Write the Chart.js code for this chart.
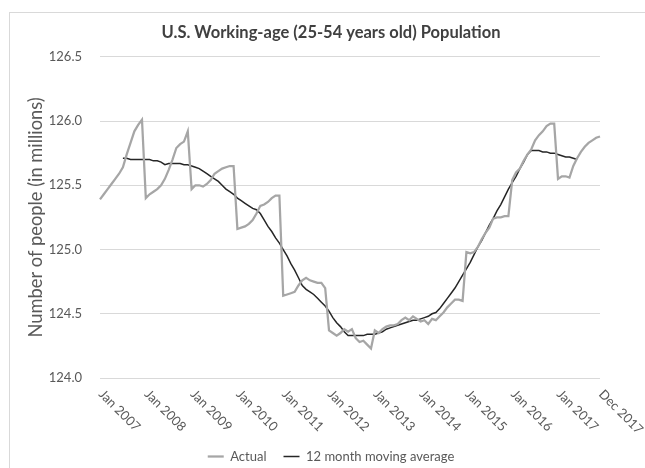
<!DOCTYPE html>
<html>
<head>
<meta charset="utf-8">
<script src="https://cdn.jsdelivr.net/npm/chart.js@4.4.1/dist/chart.umd.min.js"></script>
<style>
  html, body { margin: 0; padding: 0; background: #fff; }
  #wrap { width: 645px; height: 468px; position: relative; }
</style>
</head>
<body>
<div id="wrap"><canvas id="population-chart" width="645" height="468"></canvas></div>
<script>
// Monthly categories, Jan 2007 .. Dec 2017
const monthNames = ['Jan', 'Feb', 'Mar', 'Apr', 'May', 'Jun', 'Jul', 'Aug', 'Sep', 'Oct', 'Nov', 'Dec'];
const years = [2007, 2008, 2009, 2010, 2011, 2012, 2013, 2014, 2015, 2016, 2017];
const months = [];
years.forEach(y => monthNames.forEach(m => months.push(m + ' ' + y)));

// Labels shown under the x axis
const tickLabels = ['Jan 2007', 'Jan 2008', 'Jan 2009', 'Jan 2010', 'Jan 2011', 'Jan 2012',
    'Jan 2013', 'Jan 2014', 'Jan 2015', 'Jan 2016', 'Jan 2017', 'Dec 2017'];

// Population aged 25-54, millions (one row per year)
const actual = [
    125.39, 125.43, 125.47, 125.51, 125.55, 125.59, 125.64, 125.74, 125.83, 125.92, 125.97, 126.01,
    125.40, 125.43, 125.45, 125.47, 125.50, 125.55, 125.62, 125.70, 125.79, 125.82, 125.84, 125.92,
    125.47, 125.50, 125.50, 125.49, 125.51, 125.54, 125.59, 125.61, 125.63, 125.64, 125.65, 125.65,
    125.16, 125.17, 125.18, 125.20, 125.23, 125.28, 125.34, 125.35, 125.37, 125.40, 125.42, 125.42,
    124.64, 124.65, 124.66, 124.67, 124.72, 124.76, 124.78, 124.76, 124.75, 124.74, 124.74, 124.70,
    124.37, 124.35, 124.33, 124.35, 124.38, 124.36, 124.38, 124.31, 124.28, 124.29, 124.26, 124.23,
    124.37, 124.35, 124.38, 124.40, 124.41, 124.41, 124.42, 124.45, 124.47, 124.45, 124.48, 124.46,
    124.44, 124.45, 124.42, 124.46, 124.45, 124.48, 124.51, 124.55, 124.58, 124.61, 124.61, 124.60,
    124.98, 124.97, 124.98, 125.02, 125.08, 125.13, 125.17, 125.24, 125.25, 125.25, 125.26, 125.26,
    125.54, 125.60, 125.63, 125.69, 125.74, 125.78, 125.85, 125.89, 125.92, 125.96, 125.98, 125.98,
    125.55, 125.57, 125.57, 125.56, 125.65, 125.71, 125.76, 125.80, 125.83, 125.85, 125.87, 125.88
];

// Centered 12 month moving average (no value for the first and last six months)
const movingAvg = [
    null, null, null, null, null, null, 125.71, 125.71, 125.70, 125.70, 125.70, 125.70,
    125.70, 125.70, 125.69, 125.69, 125.68, 125.66, 125.67, 125.67, 125.67, 125.67, 125.66, 125.66,
    125.65, 125.64, 125.63, 125.61, 125.59, 125.57, 125.55, 125.53, 125.50, 125.47, 125.45, 125.43,
    125.40, 125.38, 125.36, 125.34, 125.32, 125.31, 125.28, 125.23, 125.18, 125.14, 125.09, 125.05,
    125.00, 124.95, 124.89, 124.84, 124.78, 124.72, 124.69, 124.67, 124.65, 124.62, 124.59, 124.56,
    124.52, 124.47, 124.43, 124.40, 124.36, 124.33, 124.33, 124.33, 124.33, 124.33, 124.34, 124.34,
    124.34, 124.35, 124.36, 124.38, 124.39, 124.40, 124.41, 124.42, 124.43, 124.44, 124.45, 124.45,
    124.46, 124.47, 124.48, 124.50, 124.51, 124.54, 124.58, 124.62, 124.66, 124.70, 124.75, 124.80,
    124.85, 124.90, 124.96, 125.02, 125.07, 125.13, 125.19, 125.24, 125.30, 125.35, 125.41, 125.47,
    125.52, 125.57, 125.63, 125.68, 125.74, 125.77, 125.77, 125.77, 125.76, 125.76, 125.75, 125.75,
    125.74, 125.73, 125.72, 125.72, 125.71, 125.70, null, null, null, null, null, null
];

const FONT = 'Lato, "Open Sans", sans-serif';
const TEXT = '#595959';

// white background plus the thin frame round the chart
const frame = {
    id: 'frame',
    beforeDraw(chart) {
        const c = chart.ctx;
        c.save();
        c.fillStyle = '#fff';
        c.fillRect(0, 0, chart.width, chart.height);
        c.strokeStyle = '#d9d9d9';
        c.lineWidth = 1;
        c.strokeRect(9.5, 12.5, chart.width + 20, chart.height + 20);
        c.restore();
    }
};

// slanted year labels, written downwards from each tick
const slantedTicks = {
    id: 'slantedTicks',
    afterDraw(chart) {
        const c = chart.ctx;
        const xs = chart.scales.x;
        c.save();
        c.font = '13px ' + FONT;
        c.fillStyle = TEXT;
        c.textAlign = 'left';
        c.textBaseline = 'middle';
        tickLabels.forEach(t => {
            const px = xs.getPixelForValue(months.indexOf(t));
            c.save();
            c.translate(px + 1, xs.top + 14);
            c.rotate(Math.PI / 4);
            c.fillText(t, 0, 0);
            c.restore();
        });
        c.restore();
    }
};

const ctx = document.getElementById('population-chart').getContext('2d');

const populationChart = new Chart(ctx, {
    type: 'line',
    data: {
        labels: months,
        datasets: [{
            label: 'Actual',
            data: actual,
            borderColor: '#a6a6a6',
            backgroundColor: '#a6a6a6',
            borderWidth: 2.25,
            pointRadius: 0,
            tension: 0,
        }, {
            label: '12 month moving average',
            data: movingAvg,
            borderColor: '#262626',
            backgroundColor: '#262626',
            borderWidth: 1.5,
            pointRadius: 0,
            tension: 0,
            spanGaps: false,
        }],
    },
    options: {
        responsive: false,
        animation: false,
        layout: { padding: { top: 14, right: 0, bottom: -5, left: 17 } },
        plugins: {
            title: {
                display: true,
                text: 'U.S. Working-age (25-54 years old) Population',
                color: '#404040',
                font: { family: FONT, size: 16.5, weight: 'bold' },
                padding: { top: 9, bottom: 14 },
            },
            legend: {
                position: 'bottom',
                labels: {
                    color: TEXT,
                    font: { family: FONT, size: 13 },
                    usePointStyle: true,
                    pointStyle: 'line',
                    pointStyleWidth: 16,
                    padding: 17,
                },
            },
            tooltip: { enabled: false },
        },
        scales: {
            x: {
                grid: { display: false, drawTicks: false },
                border: { display: false },
                ticks: { display: false },
                afterFit(scale) { scale.height = 55; },
            },
            y: {
                min: 124,
                max: 126.5,
                grid: { color: '#d9d9d9', drawTicks: false },
                border: { display: false },
                ticks: {
                    stepSize: 0.5,
                    padding: 18,
                    color: TEXT,
                    font: { family: FONT, size: 13 },
                    callback: v => v.toFixed(1),
                },
                title: {
                    display: true,
                    text: 'Number of people (in millions)',
                    color: TEXT,
                    font: { family: FONT, size: 18.3 },
                    padding: { top: 8, bottom: 0 },
                },
                afterFit(scale) { scale.width = 83; },
            },
            // empty strip on the right so the plot stops short of the frame
            gutter: {
                type: 'linear',
                position: 'right',
                display: true,
                grid: { display: false, drawTicks: false },
                border: { display: false },
                ticks: { display: false },
                afterFit(scale) { scale.width = 45; },
            },
        },
    },
    plugins: [frame, slantedTicks],
});
</script>
</body>
</html>
